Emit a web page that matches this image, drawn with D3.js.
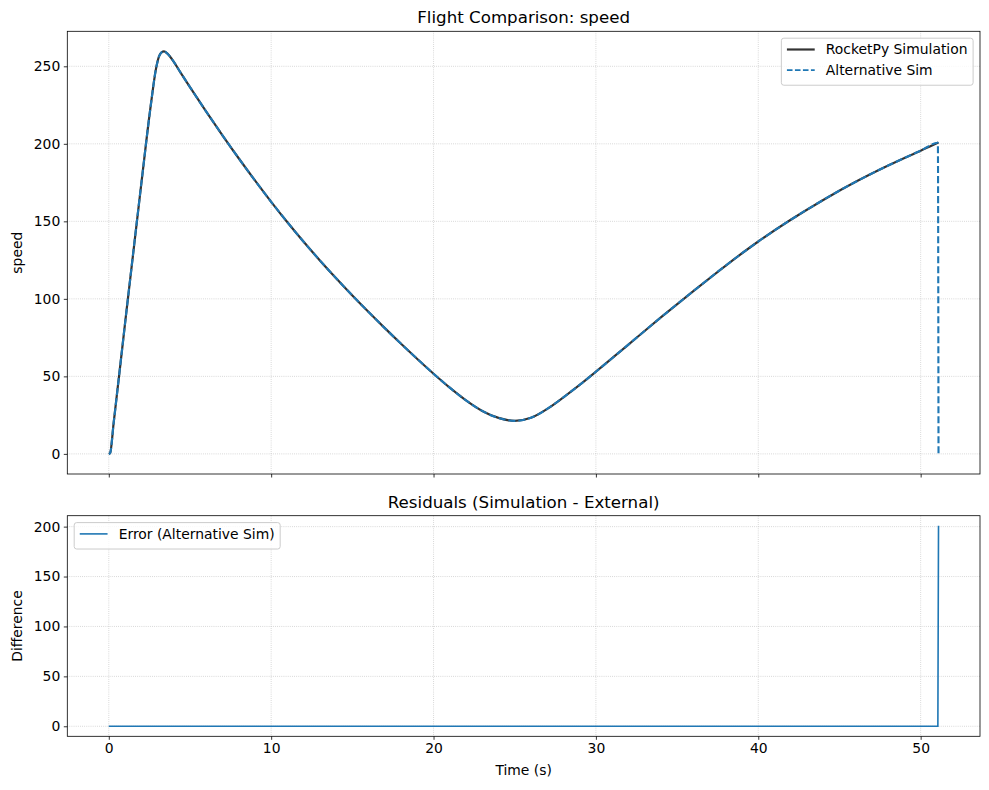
<!DOCTYPE html>
<html>
<head>
<meta charset="utf-8">
<script src="https://cdn.jsdelivr.net/npm/d3@7"></script>
<style>
  body { margin: 0; background: #fff; }
  text { font-family: "DejaVu Sans", sans-serif; fill: #000; }
</style>
</head>
<body>
<svg id="chart" width="989" height="790"></svg>
<script>
// flight time (s)
const time = [0, 0.08, 0.3, 1, 2, 2.6, 2.9, 3.1, 3.25, 3.4, 3.6, 3.9, 4.4, 5, 6, 7, 8, 9, 10, 11, 12, 13, 14, 15, 16, 17, 18, 19, 20, 21, 22, 23, 24, 25, 26, 27, 28, 29, 30, 32, 34, 36, 38, 40, 42, 44, 46, 48, 50, 51.06, 51.1];
// RocketPy simulation speed
const simSpeed = [0, 0.5, 20, 84, 174, 226, 248, 256.5, 259, 259.6, 258.3, 254.5, 246.3, 236.6, 220.8, 205.5, 190.7, 176.4, 162.6, 149.4, 136.8, 124.8, 113.3, 102.2, 91.5, 81.1, 71, 61.2, 51.7, 42.7, 34.5, 27.7, 23.2, 21.3, 23.3, 29, 36.5, 44.5, 53, 70.5, 88, 105, 121.5, 137, 151, 163.8, 175.5, 186, 195.6, 200.7, 200.9];
// alternative sim speed
const altSpeed = [0, 0.5, 20, 84, 174, 226, 248, 256.5, 259, 259.6, 258.3, 254.5, 246.3, 236.6, 220.8, 205.5, 190.7, 176.4, 162.6, 149.4, 136.8, 124.8, 113.3, 102.2, 91.5, 81.1, 71, 61.2, 51.7, 42.7, 34.5, 27.7, 23.2, 21.3, 23.3, 29, 36.5, 44.5, 53, 70.5, 88, 105, 121.5, 137, 151, 163.8, 175.5, 186, 195.6, 200.7, 0];
// residuals (simulation - external)
const residual = [0, 0, 0, 0, 0, 0, 0, 0, 0, 0, 0, 0, 0, 0, 0, 0, 0, 0, 0, 0, 0, 0, 0, 0, 0, 0, 0, 0, 0, 0, 0, 0, 0, 0, 0, 0, 0, 0, 0, 0, 0, 0, 0, 0, 0, 0, 0, 0, 0, 0, 200.9];

const xTicks = [0, 10, 20, 30, 40, 50];
const speedTicks = [0, 50, 100, 150, 200, 250];
const diffTicks = [0, 50, 100, 150, 200];

const blue = "#1f77b4";
const svg = d3.select("#chart");
svg.append("rect").attr("width", 989).attr("height", 790).attr("fill", "#fff");

const left = 67.3, right = 980;
const top1 = 31.3, bot1 = 474;
const top2 = 515.7, bot2 = 736.3;

// matplotlib-like 5% margins
function pad(ext) {
  const d = (ext[1] - ext[0]) * 0.05;
  return [ext[0] - d, ext[1] + d];
}

const x = d3.scaleLinear().domain(pad(d3.extent(time))).range([left, right]);
const y1 = d3.scaleLinear().domain(pad([0, d3.max(simSpeed)])).range([bot1, top1]);
const y2 = d3.scaleLinear().domain(pad(d3.extent(residual))).range([bot2, top2]);

function panel(y, top, bot, yTicks, showX) {
  const g = svg.append("g");
  // grid
  g.selectAll(".gx").data(xTicks).enter().append("line")
    .attr("x1", d => x(d)).attr("x2", d => x(d))
    .attr("y1", top).attr("y2", bot)
    .attr("stroke", "#b0b0b0").attr("stroke-opacity", 0.75)
    .attr("stroke-width", 0.8).attr("stroke-dasharray", "0.8,1.32");
  g.selectAll(".gy").data(yTicks).enter().append("line")
    .attr("x1", left).attr("x2", right)
    .attr("y1", d => y(d)).attr("y2", d => y(d))
    .attr("stroke", "#b0b0b0").attr("stroke-opacity", 0.75)
    .attr("stroke-width", 0.8).attr("stroke-dasharray", "0.8,1.32");

  const ax = g.append("g").attr("transform", `translate(0,${bot})`)
    .call(d3.axisBottom(x).tickValues(xTicks).tickSize(3.5).tickPadding(3.5)
      .tickFormat(showX ? d3.format("d") : () => ""));
  const ay = g.append("g").attr("transform", `translate(${left},0)`)
    .call(d3.axisLeft(y).tickValues(yTicks).tickSize(3.5).tickPadding(3.5).tickFormat(d3.format("d")));
  [ax, ay].forEach(a => {
    a.select(".domain").remove();
    a.selectAll(".tick line").attr("stroke", "#000").attr("stroke-width", 0.8);
    a.selectAll("text").attr("font-size", 13.9).attr("font-family", "DejaVu Sans").attr("fill", "#000");
  });
  return g;
}

function frame(top, bot) {
  svg.append("rect").attr("x", left).attr("y", top)
    .attr("width", right - left).attr("height", bot - top)
    .attr("fill", "none").attr("stroke", "#000").attr("stroke-width", 0.8);
}

function legend(entries, x0, y0, anchorRight) {
  const fs = 13.9;
  const g = svg.append("g");
  const box = g.append("rect");
  const rowH = 20.6;
  const texts = entries.map((e, i) => g.append("text")
    .attr("y", y0 + 11.3 + i * rowH).attr("dy", "0.35em")
    .attr("font-size", fs).text(e.label));
  const tw = d3.max(texts, t => t.node().getComputedTextLength());
  const w = 5.56 + 27.8 + 11.1 + tw + 5.56;
  const h = 5.56 * 2 + 11.3 + (entries.length - 1) * rowH + 4;
  const bx = anchorRight ? x0 - w : x0;
  box.attr("x", bx).attr("y", y0).attr("width", w).attr("height", h)
    .attr("rx", 2.5).attr("fill", "#fff").attr("fill-opacity", 0.8)
    .attr("stroke", "#cccccc").attr("stroke-width", 1);
  texts.forEach(t => t.attr("x", bx + 5.56 + 27.8 + 11.1));
  entries.forEach((e, i) => {
    const ly = y0 + 11.3 + i * rowH;
    g.append("line").attr("x1", bx + 5.56).attr("x2", bx + 5.56 + 27.8)
      .attr("y1", ly).attr("y2", ly)
      .attr("stroke", e.color).attr("stroke-opacity", e.opacity || 1)
      .attr("stroke-width", e.width).attr("stroke-dasharray", e.dash || null);
  });
}

// ---------- top panel ----------
panel(y1, top1, bot1, speedTicks, false);

const line1 = d3.line().x((d, i) => x(time[i])).y(d => y1(d)).curve(d3.curveMonotoneX);
svg.append("path").datum(simSpeed).attr("d", line1)
  .attr("fill", "none").attr("stroke", "#000").attr("stroke-opacity", 0.8).attr("stroke-width", 2.2);
svg.append("path").datum(altSpeed).attr("d", line1)
  .attr("fill", "none").attr("stroke", blue).attr("stroke-width", 2.1)
  .attr("stroke-dasharray", "7,3");

frame(top1, bot1);

svg.append("text").attr("x", (left + right) / 2).attr("y", top1 - 8)
  .attr("text-anchor", "middle").attr("font-size", 16.67).text("Flight Comparison: speed");
svg.append("text").attr("transform", `translate(22,${(top1 + bot1) / 2}) rotate(-90)`)
  .attr("text-anchor", "middle").attr("font-size", 13.9).text("speed");

legend([
  { label: "RocketPy Simulation", color: "#000", opacity: 0.8, width: 2.2 },
  { label: "Alternative Sim", color: blue, width: 1.6, dash: "5.6,2.4" }
], right - 6.9, top1 + 6.9, true);

// ---------- bottom panel ----------
panel(y2, top2, bot2, diffTicks, true);

const line2 = d3.line().x((d, i) => x(time[i])).y(d => y2(d));
svg.append("path").datum(residual).attr("d", line2)
  .attr("fill", "none").attr("stroke", blue).attr("stroke-width", 1.6);

frame(top2, bot2);

svg.append("text").attr("x", (left + right) / 2).attr("y", top2 - 8)
  .attr("text-anchor", "middle").attr("font-size", 16.67).text("Residuals (Simulation - External)");
svg.append("text").attr("transform", `translate(22,${(top2 + bot2) / 2}) rotate(-90)`)
  .attr("text-anchor", "middle").attr("font-size", 13.9).text("Difference");
svg.append("text").attr("x", (left + right) / 2).attr("y", 775)
  .attr("text-anchor", "middle").attr("font-size", 13.9).text("Time (s)");

legend([
  { label: "Error (Alternative Sim)", color: blue, width: 1.6 }
], left + 6.9, top2 + 6.9, false);
</script>
</body>
</html>
